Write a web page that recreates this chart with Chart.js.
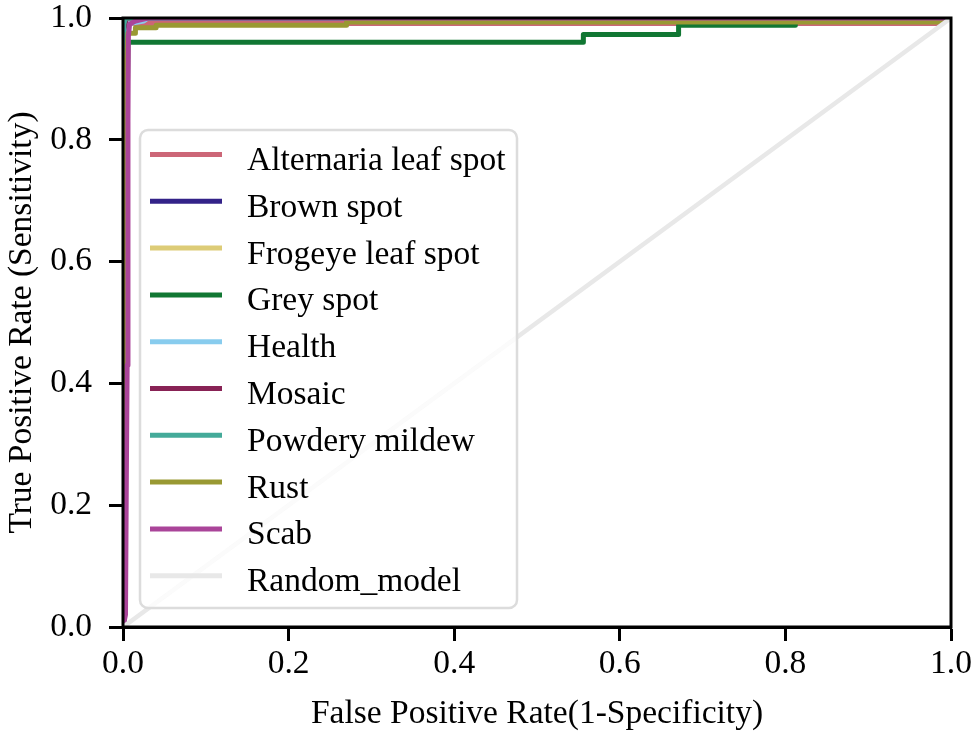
<!DOCTYPE html>
<html>
<head>
<meta charset="utf-8">
<script src="https://cdn.jsdelivr.net/npm/chart.js@4.4.0/dist/chart.umd.min.js"></script>
<style>
  html, body { margin: 0; padding: 0; background: #ffffff; }
  #wrap { width: 973px; height: 735px; }
</style>
</head>
<body>
<div id="wrap"><canvas id="c" width="973" height="735"></canvas></div>
<script>
// ---- data ----
const classNames = ['Alternaria leaf spot','Brown spot','Frogeye leaf spot','Grey spot','Health','Mosaic','Powdery mildew','Rust','Scab','Random_model'];
const classColors = ['#CC6677','#332288','#DDCC77','#117733','#88CCEE','#882255','#44AA99','#999933','#AA4499','#e8e8e8'];

const alternariaFpr = [0, 0.001, 0.003, 0.007, 0.984, 1];
const alternariaTpr = [0, 0.6, 0.95, 0.991, 0.991, 1];
const brownFpr = [0, 0, 0.002, 1];
const brownTpr = [0, 0.97, 1, 1];
const frogeyeFpr = [0, 0.001, 0.003, 1];
const frogeyeTpr = [0, 0.9, 1, 1];
const greyFpr = [0, 0.002, 0.006, 0.556, 0.556, 0.671, 0.671, 0.812, 0.812, 1];
const greyTpr = [0, 0.5, 0.960, 0.960, 0.973, 0.973, 0.988, 0.988, 1, 1];
const healthFpr = [0, 0.001, 0.004, 0.025, 0.03, 1];
const healthTpr = [0, 0.97, 0.99, 0.995, 1, 1];
const mosaicFpr = [0, 0.001, 0.004, 1];
const mosaicTpr = [0, 0.98, 1, 1];
const powderyFpr = [0, 0.001, 0.003, 1];
const powderyTpr = [0, 0.99, 1, 1];
const rustFpr = [0, 0.003, 0.006, 0.015, 0.015, 0.04, 0.04, 0.27, 0.27, 0.984, 1];
const rustTpr = [0, 0.9, 0.975, 0.975, 0.984, 0.984, 0.988, 0.988, 0.9935, 0.9935, 1];
const scabFpr = [0, 0.003, 0.004, 0.005, 0.006, 0.0065, 0.008, 0.015, 0.03, 1];
const scabTpr = [0, 0.02, 0.24, 0.43, 0.83, 0.97, 0.99, 0.995, 1, 1];
const randomFpr = [0, 1];
const randomTpr = [0, 1];

const axisTicks = [0, 0.2, 0.4, 0.6, 0.8, 1.0];

const seriesFpr = [alternariaFpr, brownFpr, frogeyeFpr, greyFpr, healthFpr, mosaicFpr, powderyFpr, rustFpr, scabFpr, randomFpr];
const seriesTpr = [alternariaTpr, brownTpr, frogeyeTpr, greyTpr, healthTpr, mosaicTpr, powderyTpr, rustTpr, scabTpr, randomTpr];

const FONT = "'Liberation Serif', 'Times New Roman', serif";

const datasets = classNames.map((name, i) => ({
  label: name,
  data: seriesFpr[i].map((x, k) => ({ x: x, y: seriesTpr[i][k] })),
  borderColor: classColors[i],
  backgroundColor: classColors[i],
  borderWidth: i === 9 ? 4.5 : 5,
  pointRadius: 0,
  tension: 0,
  fill: false,
  clip: 0,
  borderCapStyle: 'butt',
  borderJoinStyle: 'round',
  order: classNames.length - i
}));

const framePlugin = {
  id: 'frame',
  afterDatasetsDraw(chart) {
    const ctx = chart.ctx;
    const a = chart.chartArea;
    // legend
    ctx.save();
    const lx = 140, ly = 130, lw = 377, lh = 478, r = 8;
    ctx.beginPath();
    ctx.roundRect(lx, ly, lw, lh, r);
    ctx.fillStyle = 'rgba(255,255,255,0.8)';
    ctx.fill();
    ctx.lineWidth = 2.5;
    ctx.strokeStyle = '#dcdcdc';
    ctx.stroke();
    ctx.font = "33.5px " + FONT;
    ctx.textBaseline = 'alphabetic';
    ctx.textAlign = 'left';
    chart.data.datasets.forEach((ds, i) => {
      const y = 154.5 + i * 46.8;
      ctx.beginPath();
      ctx.moveTo(150, y);
      ctx.lineTo(222, y);
      ctx.lineWidth = 5;
      ctx.lineCap = 'butt';
      ctx.strokeStyle = ds.borderColor;
      ctx.stroke();
      ctx.fillStyle = '#000';
      ctx.fillText(ds.label, 247, y + 15.5);
    });
    // frame
    ctx.lineWidth = 3;
    ctx.strokeStyle = '#000';
    ctx.strokeRect(a.left, a.top, a.right - a.left, a.bottom - a.top);
    ctx.restore();
  }
};

new Chart(document.getElementById('c'), {
  type: 'line',
  data: { datasets: datasets },
  plugins: [framePlugin],
  options: {
    responsive: false,
    animation: false,
    devicePixelRatio: 1,
    layout: { padding: { top: 18, right: 22, left: 0, bottom: 0 } },
    plugins: { legend: { display: false }, tooltip: { enabled: false } },
    scales: {
      x: {
        type: 'linear', min: 0, max: 1,
        afterFit(s) { s.height = 108; s.paddingLeft = 0; s.paddingRight = 0; },
        afterBuildTicks(s) { s.ticks = axisTicks.map(v => ({ value: v })); },
        ticks: { callback: v => Number(v).toFixed(1), color: '#000', padding: 6,
                 font: { family: FONT, size: 33.5, lineHeight: 1.0 }, maxRotation: 0, autoSkip: false },
        grid: { drawOnChartArea: false, drawTicks: true, tickLength: 14, tickWidth: 3, tickColor: '#000' },
        border: { display: true, color: '#000', width: 3 },
        title: { display: true, text: 'False Positive Rate(1-Specificity)', color: '#000',
                 font: { family: FONT, size: 33.5, lineHeight: 1.2 }, padding: { top: 0, bottom: 1 } }
      },
      y: {
        type: 'linear', min: 0, max: 1,
        afterFit(s) { s.width = 123; s.paddingTop = 0; s.paddingBottom = 0; },
        afterBuildTicks(s) { s.ticks = axisTicks.map(v => ({ value: v })); },
        ticks: { callback: v => Number(v).toFixed(1), color: '#000', padding: 17,
                 font: { family: FONT, size: 33.5, lineHeight: 1.0 }, autoSkip: false },
        grid: { drawOnChartArea: false, drawTicks: true, tickLength: 14, tickWidth: 3, tickColor: '#000' },
        border: { display: true, color: '#000', width: 3 },
        title: { display: true, text: 'True Positive Rate (Sensitivity)', color: '#000',
                 font: { family: FONT, size: 33.5, lineHeight: 1.2 }, padding: { top: 2, bottom: 0 } }
      }
    }
  }
});
</script>
</body>
</html>
